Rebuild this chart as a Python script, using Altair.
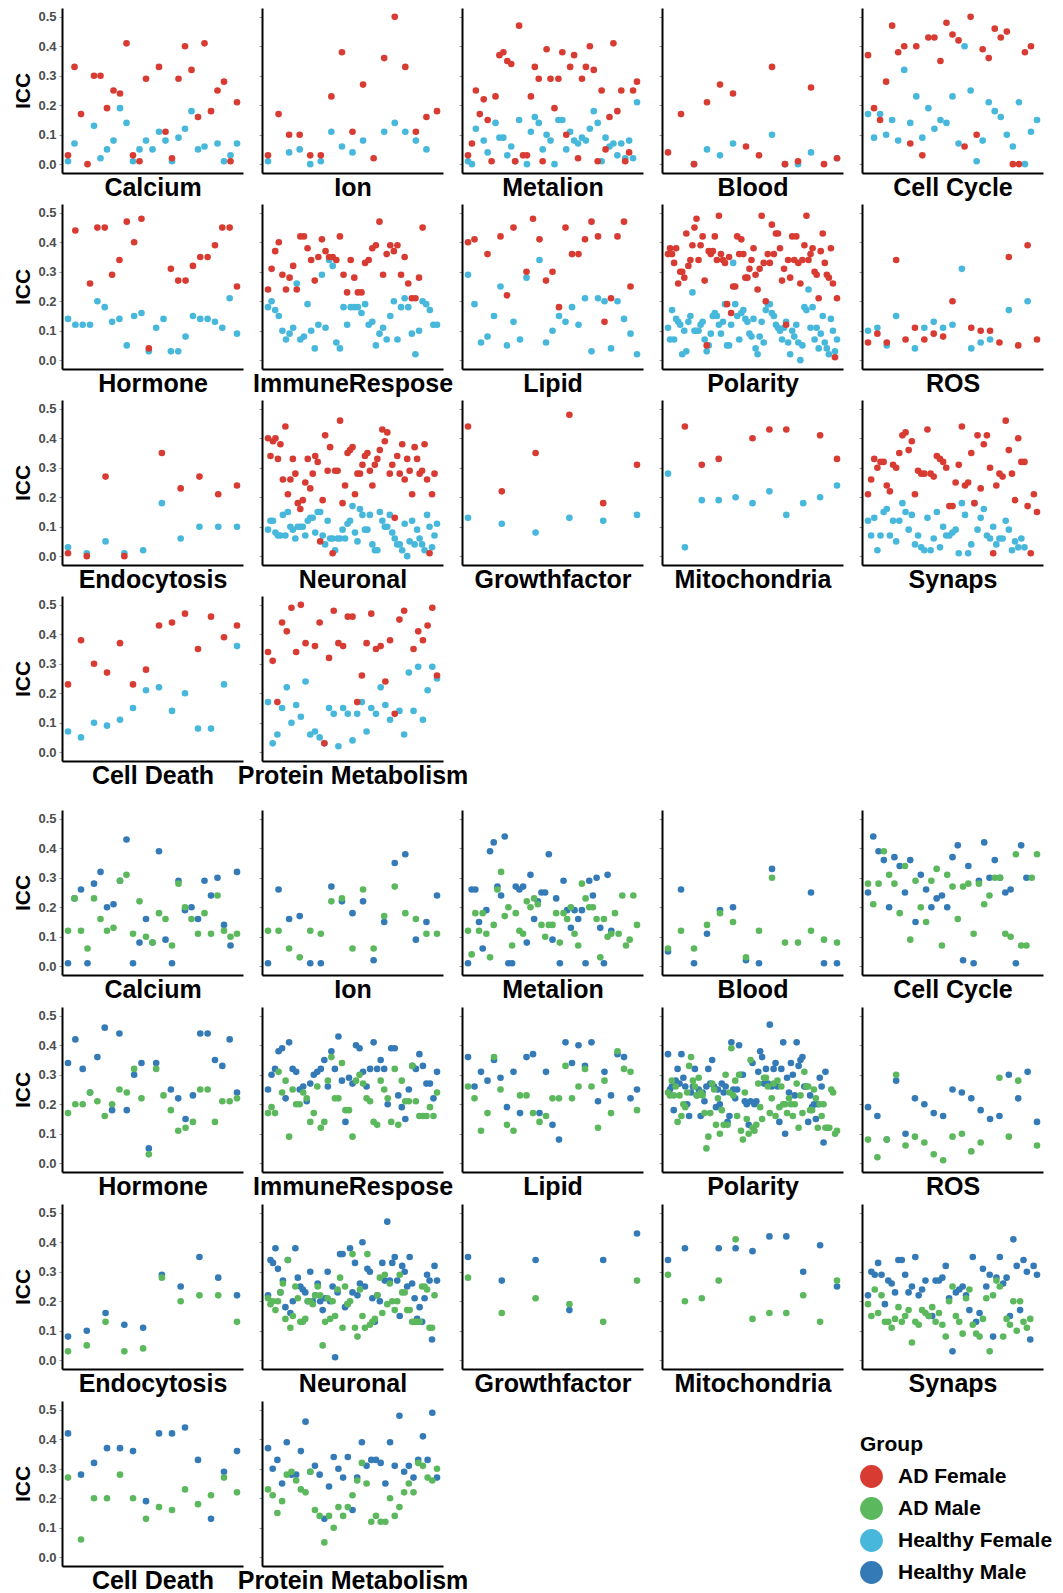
import altair as alt
import pandas as pd

categories = ["Calcium", "Ion", "Metalion", "Blood", "Cell Cycle", "Hormone", "ImmuneRespose",
              "Lipid", "Polarity", "ROS", "Endocytosis", "Neuronal", "Growthfactor",
              "Mitochondria", "Synaps", "Cell Death", "Protein Metabolism"]
groups = ["AD Female", "AD Male", "Healthy Female", "Healthy Male"]
colors = ["#D73B32", "#5CB85C", "#47B8DB", "#337AB7"]
y_ticks = [0.0, 0.1, 0.2, 0.3, 0.4, 0.5]

# ---------------- female panel (AD Female / Healthy Female) ----------------
calcium_adf = [0.03,0.33,0.17,0.00,0.30,0.30,0.19,0.25,0.24,0.41,0.03,0.01,0.29,None,0.33,0.11,0.02,0.29,0.40,0.32,0.16,0.41,0.18,0.25,0.28,0.01,0.21]
calcium_hf = [0.01,0.07,None,None,0.13,0.02,0.05,0.08,0.19,0.14,0.01,0.05,0.08,0.05,0.11,0.08,0.01,0.09,0.12,0.18,0.05,0.06,None,0.07,0.01,0.03,0.07]
ion_adf = [0.03,0.17,0.10,0.10,0.03,0.03,0.23,0.38,0.11,0.27,0.02,0.36,0.50,0.33,0.11,0.16,0.18]
ion_hf = [0.01,None,0.04,0.05,0.00,0.01,0.11,0.06,0.04,0.08,None,0.11,0.14,0.11,0.08,0.05,None]
metalion_adf = [0.03,0.07,0.25,0.17,0.22,0.15,0.01,0.23,0.37,0.38,0.35,0.34,0.01,0.47,0.03,0.03,0.23,0.33,0.29,0.01,0.39,0.29,0.19,0.29,0.38,0.10,0.33,0.37,0.02,0.29,0.33,0.40,0.32,0.01,0.25,0.05,0.16,0.41,0.18,0.25,0.01,0.04,0.25,0.28]
metalion_hf = [0.01,0.00,0.12,None,0.08,0.04,None,0.14,0.09,0.09,0.03,0.06,0.01,0.15,None,0.00,0.11,0.16,0.14,0.05,0.10,0.08,0.00,0.15,0.15,0.05,0.11,0.08,0.07,0.09,0.08,0.12,0.18,0.14,0.01,0.09,0.06,0.07,0.03,0.07,0.02,0.08,0.02,0.21]
blood_adf = [0.04,0.17,0.00,0.21,0.27,0.24,0.06,0.03,0.33,0.00,0.01,0.26,0.00,0.02]
blood_hf = [None,None,0.00,0.05,0.03,0.07,None,None,0.10,0.00,0.00,0.04,None,0.02]
cellcycle_adf = [0.37,0.19,0.15,0.28,0.47,0.38,0.40,0.07,0.40,0.03,0.43,0.43,0.35,0.48,0.44,0.42,0.06,0.50,0.10,0.39,0.36,0.46,0.43,0.45,0.00,0.00,0.38,0.40]
cellcycle_hf = [0.17,0.09,0.17,0.10,0.15,0.08,0.32,0.14,0.23,0.09,0.19,0.12,0.15,0.14,0.23,0.07,0.40,0.25,0.01,0.08,0.21,0.18,0.16,0.10,0.06,0.21,0.00,0.11,0.15]
hormone_adf = [None,0.44,None,0.26,0.45,0.45,0.29,0.34,0.47,0.40,0.48,0.04,None,None,0.31,0.27,0.27,0.32,0.35,0.35,0.39,0.45,0.45,0.25]
hormone_hf = [0.14,0.12,0.12,0.12,0.20,0.18,0.13,0.14,0.05,0.15,0.16,0.03,0.11,0.14,0.03,0.03,0.08,0.15,0.14,0.14,0.13,0.11,0.21,0.09]
immune_adf = [0.24,0.31,0.37,0.40,0.29,0.24,0.28,0.32,0.24,0.42,0.42,0.38,0.34,0.27,0.35,0.41,0.37,0.35,0.35,0.34,0.42,0.29,0.23,0.34,0.28,0.23,0.23,0.33,0.34,0.38,0.39,0.47,0.29,0.36,0.39,0.37,0.39,0.29,0.35,0.26,0.21,0.21,0.28,0.45]
immune_hf = [0.18,0.20,0.17,0.15,0.10,0.07,0.09,0.11,0.26,0.07,0.08,0.19,0.10,0.04,0.12,0.29,0.11,0.34,0.32,0.06,0.04,0.18,0.12,0.18,0.18,0.18,0.16,0.19,0.12,0.13,0.05,0.09,0.11,0.07,0.15,0.20,0.07,0.18,0.21,0.18,0.09,0.02,0.10,0.20,0.19,0.17,0.12,0.12]
lipid_adf = [0.40,0.41,None,0.36,None,0.42,0.22,0.45,None,0.30,0.48,0.41,0.27,0.30,0.18,0.45,0.36,0.36,0.41,0.47,0.42,0.13,0.21,0.42,0.47,0.25,None]
lipid_hf = [0.29,0.19,0.06,0.08,0.15,0.25,0.05,0.13,0.07,0.28,None,0.34,0.06,0.10,0.15,0.13,0.18,0.12,0.21,0.03,0.21,0.20,0.04,0.20,0.14,0.09,0.02]
polarity_adf = [0.36,0.38,0.36,0.33,0.38,0.26,0.30,0.30,0.28,0.43,0.32,0.34,0.39,0.45,0.48,0.34,0.39,0.42,0.27,0.05,0.37,0.36,0.37,0.42,0.34,0.49,0.36,0.34,0.33,0.19,0.35,0.16,0.25,0.25,0.42,0.36,0.41,0.36,0.28,0.28,0.31,0.34,0.38,0.29,0.24,0.31,0.49,0.33,0.20,0.36,0.33,0.46,0.36,0.43,0.43,0.38,0.27,0.31,0.12,0.34,0.28,0.42,0.34,0.42,0.33,0.26,0.34,0.39,0.49,0.34,0.36,0.38,0.30,0.29,0.21,0.37,0.43,0.33,0.29,0.28,0.38,0.26,0.01,0.21]
polarity_hf = [0.11,0.07,0.17,0.07,0.14,0.13,0.12,0.02,0.10,0.03,0.13,0.15,0.23,0.10,0.10,0.10,0.12,0.13,0.07,0.03,0.05,0.09,0.15,0.16,0.15,0.12,0.09,0.13,0.19,0.05,0.05,0.12,0.33,0.19,0.15,0.07,0.16,0.17,0.14,0.13,0.09,0.08,0.14,0.04,0.02,0.08,0.13,0.06,0.17,0.19,0.19,0.16,0.15,0.12,0.11,0.10,0.07,0.11,0.13,0.06,0.02,0.10,0.08,0.12,0.06,0.00,0.05,0.18,0.17,0.24,0.11,0.18,0.07,0.11,0.04,0.09,0.15,0.06,0.04,0.02,0.14,0.10,0.03,0.07]
ros_adf = [0.06,0.09,0.06,0.34,0.07,0.11,0.07,0.09,0.08,0.20,None,0.11,0.10,0.10,0.06,0.35,0.05,0.39,0.07]
ros_hf = [0.10,0.11,0.05,0.15,None,0.04,0.11,0.13,0.11,0.12,0.31,0.04,0.06,0.07,None,0.17,None,0.20,None]
endocytosis_adf = [0.01,0.00,0.27,0.00,None,0.35,0.23,0.27,0.21,0.24]
endocytosis_hf = [0.03,0.01,0.05,0.01,0.02,0.18,0.06,0.10,0.10,0.10]
neuronal_adf = [0.40,0.34,0.39,0.40,0.33,0.38,0.26,0.44,0.21,0.26,0.33,0.28,0.18,0.16,0.19,0.25,0.33,0.23,0.28,0.34,0.32,0.05,0.19,0.41,0.29,0.37,0.01,0.29,0.29,0.46,0.18,0.24,0.35,0.36,0.37,0.21,0.28,0.28,0.31,0.34,0.35,0.29,0.24,0.31,0.33,0.36,0.43,0.39,0.42,0.28,0.31,0.13,0.34,0.28,0.38,0.26,0.33,0.29,0.21,0.37,0.33,0.28,0.29,0.38,0.26,0.01,0.21,0.28]
neuronal_hf = [0.09,0.12,0.12,0.08,0.07,0.07,0.14,0.07,0.15,0.10,0.09,0.06,0.10,0.10,0.10,0.07,0.12,0.13,0.13,0.08,0.15,0.15,0.07,0.04,0.12,0.06,0.06,0.02,0.06,0.06,0.09,0.06,0.11,0.12,0.17,0.08,0.05,0.16,0.14,0.09,0.09,0.14,0.04,0.02,0.02,0.15,0.12,0.10,0.10,0.14,0.08,0.06,0.04,0.04,0.02,0.11,0.00,0.05,0.12,0.04,0.09,0.06,0.04,0.02,0.14,0.10,0.03,0.07,0.11]
growthfactor_adf = [0.44,0.22,0.35,0.48,0.18,0.31]
growthfactor_hf = [0.13,0.11,0.08,0.13,0.12,0.14]
mitochondria_adf = [None,0.44,0.31,0.33,None,0.40,0.43,0.43,None,0.41,0.33]
mitochondria_hf = [0.28,0.03,0.19,0.19,0.20,0.18,0.22,0.14,0.18,0.20,0.24]
synaps_adf = [0.21,0.26,0.33,0.30,0.32,0.32,0.24,0.22,0.31,0.30,0.35,0.41,0.42,0.36,0.39,0.21,0.29,0.28,0.28,0.43,0.28,0.27,0.34,0.33,0.32,0.30,0.17,0.17,0.25,0.31,0.44,0.24,0.25,0.35,0.18,0.41,0.23,0.38,0.41,0.30,0.01,0.24,0.28,0.27,0.46,0.36,0.28,0.19,0.40,0.32,0.32,0.17,0.01,0.21,0.15]
synaps_hf = [0.12,0.07,0.13,0.02,0.07,0.15,0.16,0.07,0.12,0.05,0.12,0.18,0.15,0.09,0.14,0.04,0.07,0.03,0.02,0.13,0.02,0.06,0.15,0.03,0.10,0.07,0.07,0.08,0.09,0.01,0.18,0.14,0.01,0.04,0.18,0.09,0.13,0.16,0.07,0.06,0.10,0.04,0.06,0.06,0.12,0.09,0.02,0.05,0.03,0.06,0.03]
celldeath_adf = [0.23,0.38,0.30,0.27,0.37,0.23,0.28,0.43,0.44,0.47,0.35,0.46,0.39,0.43]
celldeath_hf = [0.07,0.05,0.10,0.09,0.11,0.15,0.21,0.22,0.14,0.20,0.08,0.08,0.23,0.36]
protein_adf = [0.34,0.31,0.17,0.44,0.41,0.49,0.34,0.50,0.37,None,0.36,0.44,0.03,0.32,0.48,0.37,0.36,0.46,0.46,0.17,0.26,0.37,0.47,0.35,0.36,0.24,0.38,0.13,0.45,0.48,None,0.35,0.41,0.38,0.43,0.49,0.26]
protein_hf = [0.17,0.03,0.06,0.15,0.22,0.10,0.16,0.12,0.24,0.06,0.07,0.05,0.03,0.15,0.13,0.02,0.15,0.13,0.04,0.13,0.17,0.07,0.15,0.13,0.22,0.16,0.11,None,0.14,0.06,0.27,0.14,0.29,0.11,0.21,0.29,0.25]

# ---------------- male panel (AD Male / Healthy Male) ----------------
calcium_am = [0.12,0.23,0.12,0.06,0.23,0.16,0.12,0.13,0.29,0.31,0.11,0.22,0.10,0.08,0.18,0.16,0.07,0.28,0.20,0.16,0.11,0.18,0.11,0.24,0.12,0.10,0.11]
calcium_hm = [0.01,0.23,0.26,0.01,0.28,0.32,0.20,0.21,0.29,0.43,0.01,0.08,0.16,0.08,0.39,0.09,0.01,0.29,0.19,0.20,0.16,0.29,0.24,0.30,0.14,0.07,0.32]
ion_am = [0.12,0.12,0.06,0.03,0.12,0.11,0.22,0.23,0.06,0.26,0.06,0.17,0.27,0.18,0.16,0.11,0.11]
ion_hm = [0.01,0.26,0.16,0.17,0.01,0.01,0.27,0.22,0.18,0.22,0.02,0.15,0.35,0.38,0.09,0.15,0.24]
metalion_am = [0.12,0.04,0.18,0.12,0.18,0.11,0.03,0.14,0.26,0.32,0.17,0.20,0.07,0.18,0.12,0.11,0.22,0.20,0.23,0.21,0.14,0.10,0.14,0.14,0.18,0.08,0.18,0.16,0.20,0.11,0.07,0.28,0.23,0.20,0.20,0.16,0.03,0.16,0.10,0.11,0.18,0.11,0.24,0.07,0.09,0.24,0.14]
metalion_hm = [0.01,0.26,0.26,0.15,0.06,0.19,0.39,0.42,0.27,0.24,0.44,0.01,0.01,0.27,0.26,0.27,0.08,0.31,0.16,0.22,0.25,0.25,0.38,0.09,0.23,0.01,0.29,0.19,0.13,0.19,0.16,0.19,0.01,0.29,0.24,0.30,0.13,0.01,0.31,0.12]
blood_am = [0.06,0.12,0.06,0.14,0.18,0.15,0.03,0.12,0.30,0.08,0.08,0.12,0.09,0.08]
blood_hm = [0.05,0.26,0.01,0.11,0.19,0.20,0.02,0.01,0.33,None,None,0.25,0.01,0.01]
cellcycle_am = [0.28,0.21,0.28,0.39,0.31,0.28,0.18,0.34,0.09,0.29,0.20,0.15,0.29,0.33,0.07,0.31,0.27,0.16,0.27,0.28,0.11,0.28,0.21,0.24,0.30,0.30,0.11,0.10,0.38,0.07,0.07,0.30,0.38]
cellcycle_hm = [0.25,0.44,0.39,0.36,0.20,0.37,0.34,0.25,0.36,0.15,0.31,0.26,0.20,0.23,0.24,0.20,0.37,0.41,0.02,0.34,0.01,0.29,0.42,0.30,0.36,0.30,0.25,0.26,0.01,0.41,0.30]
hormone_am = [0.17,0.20,0.20,0.24,0.21,0.16,0.20,0.25,0.24,0.32,0.22,0.03,0.32,0.23,0.18,0.11,0.12,0.14,0.25,0.25,0.14,0.21,0.21,0.22]
hormone_hm = [0.34,0.42,0.32,0.24,0.36,0.46,0.18,0.44,0.18,0.30,0.34,0.05,0.34,None,0.25,0.22,0.15,0.23,0.44,0.44,0.35,0.33,0.42,0.24]
immune_am = [0.17,0.19,0.17,0.31,0.24,0.28,0.09,0.25,0.20,0.20,0.24,0.22,0.14,0.17,0.26,0.12,0.14,0.28,0.36,0.22,0.22,0.34,0.18,0.18,0.09,0.28,0.30,0.27,0.22,0.21,0.14,0.13,0.28,0.25,0.22,0.14,0.32,0.13,0.28,0.21,0.21,0.33,0.21,0.16,0.16,0.16,0.19,0.16,0.24]
immune_hm = [0.25,0.30,0.32,0.38,0.39,0.22,0.41,0.32,0.31,0.25,0.26,0.21,0.27,0.30,0.31,0.32,0.35,0.26,0.38,0.32,0.43,0.28,0.14,0.29,0.27,0.40,0.39,0.31,0.26,0.32,0.41,0.32,0.35,0.32,0.20,0.39,0.39,0.23,0.19,0.15,0.25,0.33,0.32,0.37,0.33,0.27,0.27,0.22,0.31]
lipid_am = [0.26,0.22,0.11,0.17,0.36,0.25,0.13,0.11,0.23,0.23,0.17,0.14,0.16,0.22,0.22,0.33,0.22,0.26,0.32,0.26,0.12,0.28,0.17,0.38,0.32,0.31,0.18]
lipid_hm = [0.36,0.26,0.31,0.28,0.35,0.29,0.19,0.31,0.17,0.36,0.37,0.17,0.31,0.13,0.08,0.41,0.34,0.40,0.33,0.41,0.21,0.31,0.23,0.37,0.36,0.22,0.25]
polarity_am = [0.24,0.23,0.28,0.23,0.26,0.14,0.23,0.16,0.20,0.19,0.24,0.33,0.36,0.28,0.26,0.23,0.29,0.24,0.23,0.17,0.05,0.09,0.17,0.27,0.25,0.13,0.22,0.10,0.18,0.13,0.30,0.13,0.24,0.39,0.23,0.28,0.16,0.30,0.11,0.08,0.24,0.15,0.10,0.35,0.12,0.11,0.13,0.27,0.19,0.15,0.29,0.29,0.26,0.17,0.22,0.27,0.16,0.28,0.19,0.26,0.20,0.20,0.17,0.22,0.20,0.16,0.20,0.27,0.12,0.23,0.17,0.31,0.26,0.26,0.18,0.18,0.25,0.22,0.12,0.20,0.16,0.20,0.12,0.12,0.12,0.25,0.24,0.10,0.11]
polarity_hm = [0.37,0.25,0.26,0.18,0.28,0.32,0.27,0.37,0.29,0.26,0.20,0.16,0.24,0.26,0.32,0.23,0.25,0.16,0.24,0.21,0.26,0.32,0.27,0.35,0.26,0.19,0.25,0.20,0.27,0.24,0.26,0.14,0.16,0.41,0.25,0.22,0.25,0.40,0.30,0.30,0.21,0.20,0.13,0.21,0.34,0.20,0.21,0.31,0.38,0.36,0.27,0.32,0.27,0.47,0.26,0.32,0.34,0.26,0.14,0.32,0.41,0.10,0.29,0.24,0.34,0.30,0.23,0.41,0.33,0.35,0.36,0.26,0.26,0.14,0.23,0.19,0.20,0.15,0.20,0.29,0.26,0.07,0.31]
ros_am = [0.08,0.02,0.08,0.30,0.06,0.09,0.07,0.03,0.01,0.09,0.10,0.04,0.07,None,0.29,0.09,0.28,None,0.06]
ros_hm = [0.19,0.16,0.08,0.28,0.10,0.22,0.20,0.17,0.16,0.25,0.24,0.22,0.18,0.15,0.16,0.30,0.22,0.31,0.14]
endocytosis_am = [0.03,0.05,0.13,0.03,0.04,0.28,0.20,0.22,0.22,0.13]
endocytosis_hm = [0.08,0.10,0.16,0.12,0.11,0.29,0.25,0.35,0.28,0.22]
neuronal_am = [0.21,0.19,0.20,0.17,0.20,0.23,0.26,0.14,0.34,0.11,0.15,0.25,0.21,0.13,0.13,0.14,0.20,0.20,0.19,0.22,0.25,0.22,0.05,0.13,0.21,0.14,0.20,0.15,0.24,0.28,0.11,0.25,0.19,0.20,0.36,0.11,0.08,0.24,0.15,0.11,0.36,0.12,0.13,0.14,0.22,0.28,0.16,0.29,0.19,0.26,0.20,0.17,0.20,0.29,0.23,0.23,0.17,0.17,0.13,0.13,0.13,0.13,0.25,0.25,0.24,0.11,0.11,0.22]
neuronal_hm = [0.22,0.34,0.33,0.38,0.31,0.23,0.27,0.18,0.34,0.16,0.20,0.38,0.28,0.25,0.24,0.23,0.20,0.30,0.20,0.22,0.26,0.20,0.17,0.21,0.30,0.20,0.25,0.01,0.23,0.36,0.36,0.18,0.19,0.38,0.23,0.33,0.22,0.26,0.40,0.25,0.31,0.30,0.21,0.13,0.22,0.20,0.33,0.27,0.47,0.27,0.33,0.35,0.27,0.15,0.32,0.30,0.25,0.35,0.26,0.21,0.14,0.18,0.13,0.21,0.29,0.27,0.07,0.32,0.27]
growthfactor_am = [0.28,0.16,0.21,0.19,0.13,0.27]
growthfactor_hm = [0.35,0.27,0.34,0.17,0.34,0.43]
mitochondria_am = [0.29,0.20,0.21,0.27,0.41,0.14,0.16,0.16,0.22,0.13,0.27]
mitochondria_hm = [0.34,0.38,None,0.38,0.38,0.37,0.42,0.42,0.30,0.39,0.25]
synaps_am = [0.19,0.15,0.24,0.16,0.22,0.13,0.13,0.11,0.14,0.18,0.13,0.15,0.17,0.06,0.13,0.12,0.17,0.16,0.15,0.18,0.13,0.16,0.12,0.08,0.20,0.25,0.15,0.13,0.09,0.21,0.24,0.12,0.09,0.08,0.14,0.21,0.03,0.22,0.27,0.25,0.08,0.14,0.12,0.20,0.10,0.20,0.13,0.11,0.14]
synaps_hm = [0.22,0.30,0.29,0.33,0.29,0.19,0.27,0.26,0.23,0.34,0.34,0.29,0.23,0.25,0.35,0.22,0.24,0.27,0.15,0.15,0.27,0.27,0.28,0.32,0.21,0.03,0.23,0.24,0.25,0.22,0.17,0.35,0.13,0.16,0.31,0.25,0.29,0.08,0.28,0.35,0.26,0.28,0.15,0.41,0.32,0.17,0.34,0.30,0.07,0.32,0.29]
celldeath_am = [0.27,0.06,0.20,0.20,0.28,0.20,0.13,0.17,0.16,0.23,0.18,0.21,0.27,0.22]
celldeath_hm = [0.42,0.28,0.32,0.37,0.37,0.36,0.19,0.42,0.42,0.44,0.33,0.13,0.29,0.36]
protein_am = [0.23,0.21,0.15,0.19,0.28,0.29,0.26,0.23,0.22,0.29,0.16,0.14,0.05,0.14,0.10,0.17,0.14,0.17,0.21,0.26,0.32,0.25,0.12,0.14,0.12,0.12,0.20,0.14,0.17,0.22,0.25,0.22,0.32,0.31,0.27,0.26,0.30]
protein_hm = [0.37,0.30,0.33,0.25,0.39,0.28,0.28,0.36,0.46,0.29,0.31,0.28,0.13,0.24,0.34,0.30,0.27,0.34,0.16,0.27,0.39,0.31,0.33,0.33,0.32,0.25,0.39,0.31,0.48,0.29,0.31,0.27,0.33,0.41,0.33,0.49,0.27]

female_series = [
    (calcium_adf, calcium_hf), (ion_adf, ion_hf), (metalion_adf, metalion_hf), (blood_adf, blood_hf),
    (cellcycle_adf, cellcycle_hf), (hormone_adf, hormone_hf), (immune_adf, immune_hf), (lipid_adf, lipid_hf),
    (polarity_adf, polarity_hf), (ros_adf, ros_hf), (endocytosis_adf, endocytosis_hf), (neuronal_adf, neuronal_hf),
    (growthfactor_adf, growthfactor_hf), (mitochondria_adf, mitochondria_hf), (synaps_adf, synaps_hf),
    (celldeath_adf, celldeath_hf), (protein_adf, protein_hf)]
male_series = [
    (calcium_am, calcium_hm), (ion_am, ion_hm), (metalion_am, metalion_hm), (blood_am, blood_hm),
    (cellcycle_am, cellcycle_hm), (hormone_am, hormone_hm), (immune_am, immune_hm), (lipid_am, lipid_hm),
    (polarity_am, polarity_hm), (ros_am, ros_hm), (endocytosis_am, endocytosis_hm), (neuronal_am, neuronal_hm),
    (growthfactor_am, growthfactor_hm), (mitochondria_am, mitochondria_hm), (synaps_am, synaps_hm),
    (celldeath_am, celldeath_hm), (protein_am, protein_hm)]


def build(series, ad_name, h_name):
    rows = []
    for cat, (ad, h) in zip(categories, series):
        for i, v in enumerate(h):
            if v is not None:
                rows.append({"cat": cat, "group": h_name, "i": i, "v": v, "z": 0})
        for i, v in enumerate(ad):
            if v is not None:
                rows.append({"cat": cat, "group": ad_name, "i": i, "v": v, "z": 1})
    return pd.DataFrame(rows)


W, H = 181, 165


def cell(df, cat, first_col, label_pad, title_pad):
    if first_col:
        y_axis = alt.Axis(values=y_ticks, format=".1f", grid=False, domain=True,
                          domainColor="black", domainWidth=2, tickSize=3, tickColor="#999999",
                          labelColor="#4D4D4D", labelFontWeight="bold", labelFontSize=13,
                          labelPadding=label_pad, titleFontSize=21, titleFontWeight="bold",
                          titleColor="black", titlePadding=title_pad)
        y_title = "ICC"
    else:
        y_axis = alt.Axis(values=y_ticks, grid=False, domain=True, domainColor="black",
                          domainWidth=2, tickSize=3, tickColor="#999999", labels=False)
        y_title = ""
    x_axis = alt.Axis(labels=False, ticks=False, grid=False, domain=True, domainColor="black",
                      domainWidth=2, titleFontSize=25, titleFontWeight="bold",
                      titleColor="black", titlePadding=2)
    return alt.Chart(df).transform_filter(alt.datum.cat == cat).mark_circle(
        size=44, opacity=1
    ).encode(
        x=alt.X("i:Q", title=cat, axis=x_axis,
                scale=alt.Scale(nice=False, zero=True, padding=6)),
        y=alt.Y("v:Q", title=y_title, axis=y_axis,
                scale=alt.Scale(domain=[-0.03, 0.53], nice=False, zero=False)),
        color=alt.Color("group:N", scale=alt.Scale(domain=groups, range=colors),
                        legend=alt.Legend(title="Group", symbolType="circle")),
        order=alt.Order("z:Q"),
    ).properties(width=W, height=H)


def panel(df, label_pad, title_pad, row_spacing):
    charts = [cell(df, cat, k % 5 == 0, label_pad, title_pad) for k, cat in enumerate(categories)]
    return alt.concat(*charts, columns=5, spacing={"row": row_spacing, "column": 19},
                      bounds="flush").resolve_scale(x="independent", y="shared", color="shared")


top = panel(build(female_series, "AD Female", "Healthy Female"), 3, 4, 31)
bottom = panel(build(male_series, "AD Male", "Healthy Male"), 3, 4, 32)

chart = alt.vconcat(top, bottom, spacing=22).resolve_scale(color="shared").properties(
    padding={"left": 4, "top": 0, "right": 0, "bottom": 0}
).configure(font="Liberation Sans").configure_view(stroke=None).configure_legend(
    orient="none", legendX=798, legendY=1426, titleFontSize=21, titleFontWeight="bold",
    titleColor="black", labelFontSize=21, labelFontWeight="bold", labelColor="black",
    symbolSize=520, symbolStrokeWidth=0, rowPadding=9, titlePadding=10, labelOffset=15,
    labelLimit=300, padding=0
)

chart.save("out.html", embed_options={"renderer": "svg", "actions": False})
